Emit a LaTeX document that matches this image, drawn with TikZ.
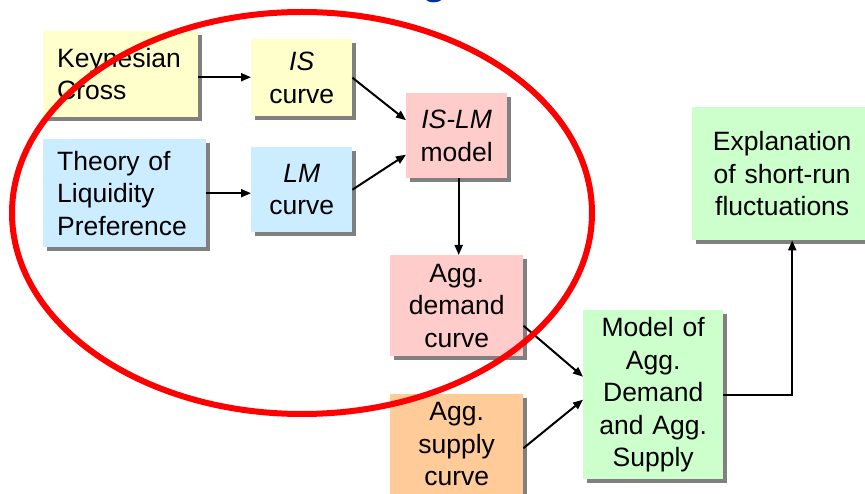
\documentclass[tikz,border=0pt]{standalone}
\usepackage{fontspec}
\setmainfont{Liberation Sans}
\usetikzlibrary{arrows.meta,shadows}
\definecolor{boxyellow}{HTML}{FFFFCC}
\definecolor{boxblue}{HTML}{CCECFF}
\definecolor{boxpink}{HTML}{FFCCCC}
\definecolor{boxorange}{HTML}{FFCC99}
\definecolor{boxgreen}{HTML}{CCFFCC}
\definecolor{shadowgray}{HTML}{808080}
\definecolor{titleblue}{HTML}{003399}
\begin{document}
\begin{tikzpicture}[x=1pt,y=-1pt,
  box/.style={inner sep=0pt, anchor=north west, align=center,
    font=\fontsize{26.5}{32.5}\selectfont,
    drop shadow={shadow xshift=4pt, shadow yshift=-4pt, fill=shadowgray, opacity=1}},
  leftbox/.style={box, align=left, inner xsep=14pt},
  arr/.style={line width=2pt, -{Triangle[length=10pt,width=8pt]}}]
\useasboundingbox (0,0) rectangle (865,494);
\clip (0,0) rectangle (865,494);

% title line above the picture, only its lowest stroke falls inside
\node[anchor=base, text=titleblue, font=\fontsize{40}{48}\selectfont\bfseries\itshape, inner sep=0pt] (title) at (438,-5) {g};

% boxes
\node[leftbox, fill=boxyellow, minimum width=155pt, minimum height=86pt, text width=127pt] (kc) at (43,31) {Keynesian\\Cross};
\node[box, fill=boxyellow, minimum width=101pt, minimum height=77pt, text width=101pt] (is) at (251,39) {\textit{IS}\\curve};
\node[box, fill=boxpink, minimum width=101pt, minimum height=85pt, text width=101pt] (islm) at (406,93) {\textit{IS-LM}\\model};
\node[leftbox, fill=boxblue, minimum width=163pt, minimum height=108pt, text width=135pt] (th) at (43,139) {Theory of\\Liquidity\\Preference};
\node[box, fill=boxblue, minimum width=101pt, minimum height=85pt, text width=101pt] (lm) at (251,147) {\textit{LM}\\curve};
\node[box, fill=boxpink, minimum width=133pt, minimum height=101pt, text width=133pt] (ad) at (390,255) {Agg.\\demand\\curve};
\node[box, fill=boxorange, minimum width=133pt, minimum height=100pt, text width=133pt] (as) at (390,394) {Agg.\\supply\\curve};
\node[box, fill=boxgreen, minimum width=140pt, minimum height=169pt, text width=140pt] (m) at (583,310) {Model of\\Agg.\\Demand\\and Agg.\\Supply};
\node[box, fill=boxgreen, minimum width=180pt, minimum height=133pt, text width=180pt] (ex) at (692,107) {Explanation\\of short-run\\fluctuations};

% connectors
\draw[arr] ([yshift=-3pt]kc.east) -- ([yshift=-3pt]kc.east -| is.west);
\draw[arr] (is.east) -- ([yshift=15.5pt]islm.west);
\draw[arr] (th.east) -- (th.east -| lm.west);
\draw[arr] (lm.east) -- ([yshift=-19pt]islm.west);
\draw[arr] ([xshift=2pt]islm.south) -- ([xshift=2pt]ad.north);
\draw[arr] ([yshift=-20pt]ad.east) -- ([yshift=18pt]m.west);
\draw[arr] ([yshift=-4pt]as.east) -- ([yshift=-5pt]m.west);
\draw[arr] (m.east) -| ([xshift=10pt]ex.south);

% highlight ring round the IS-LM part
\draw[red, line width=6pt] (302,213) ellipse [x radius=290, y radius=201];
\end{tikzpicture}
\end{document}
